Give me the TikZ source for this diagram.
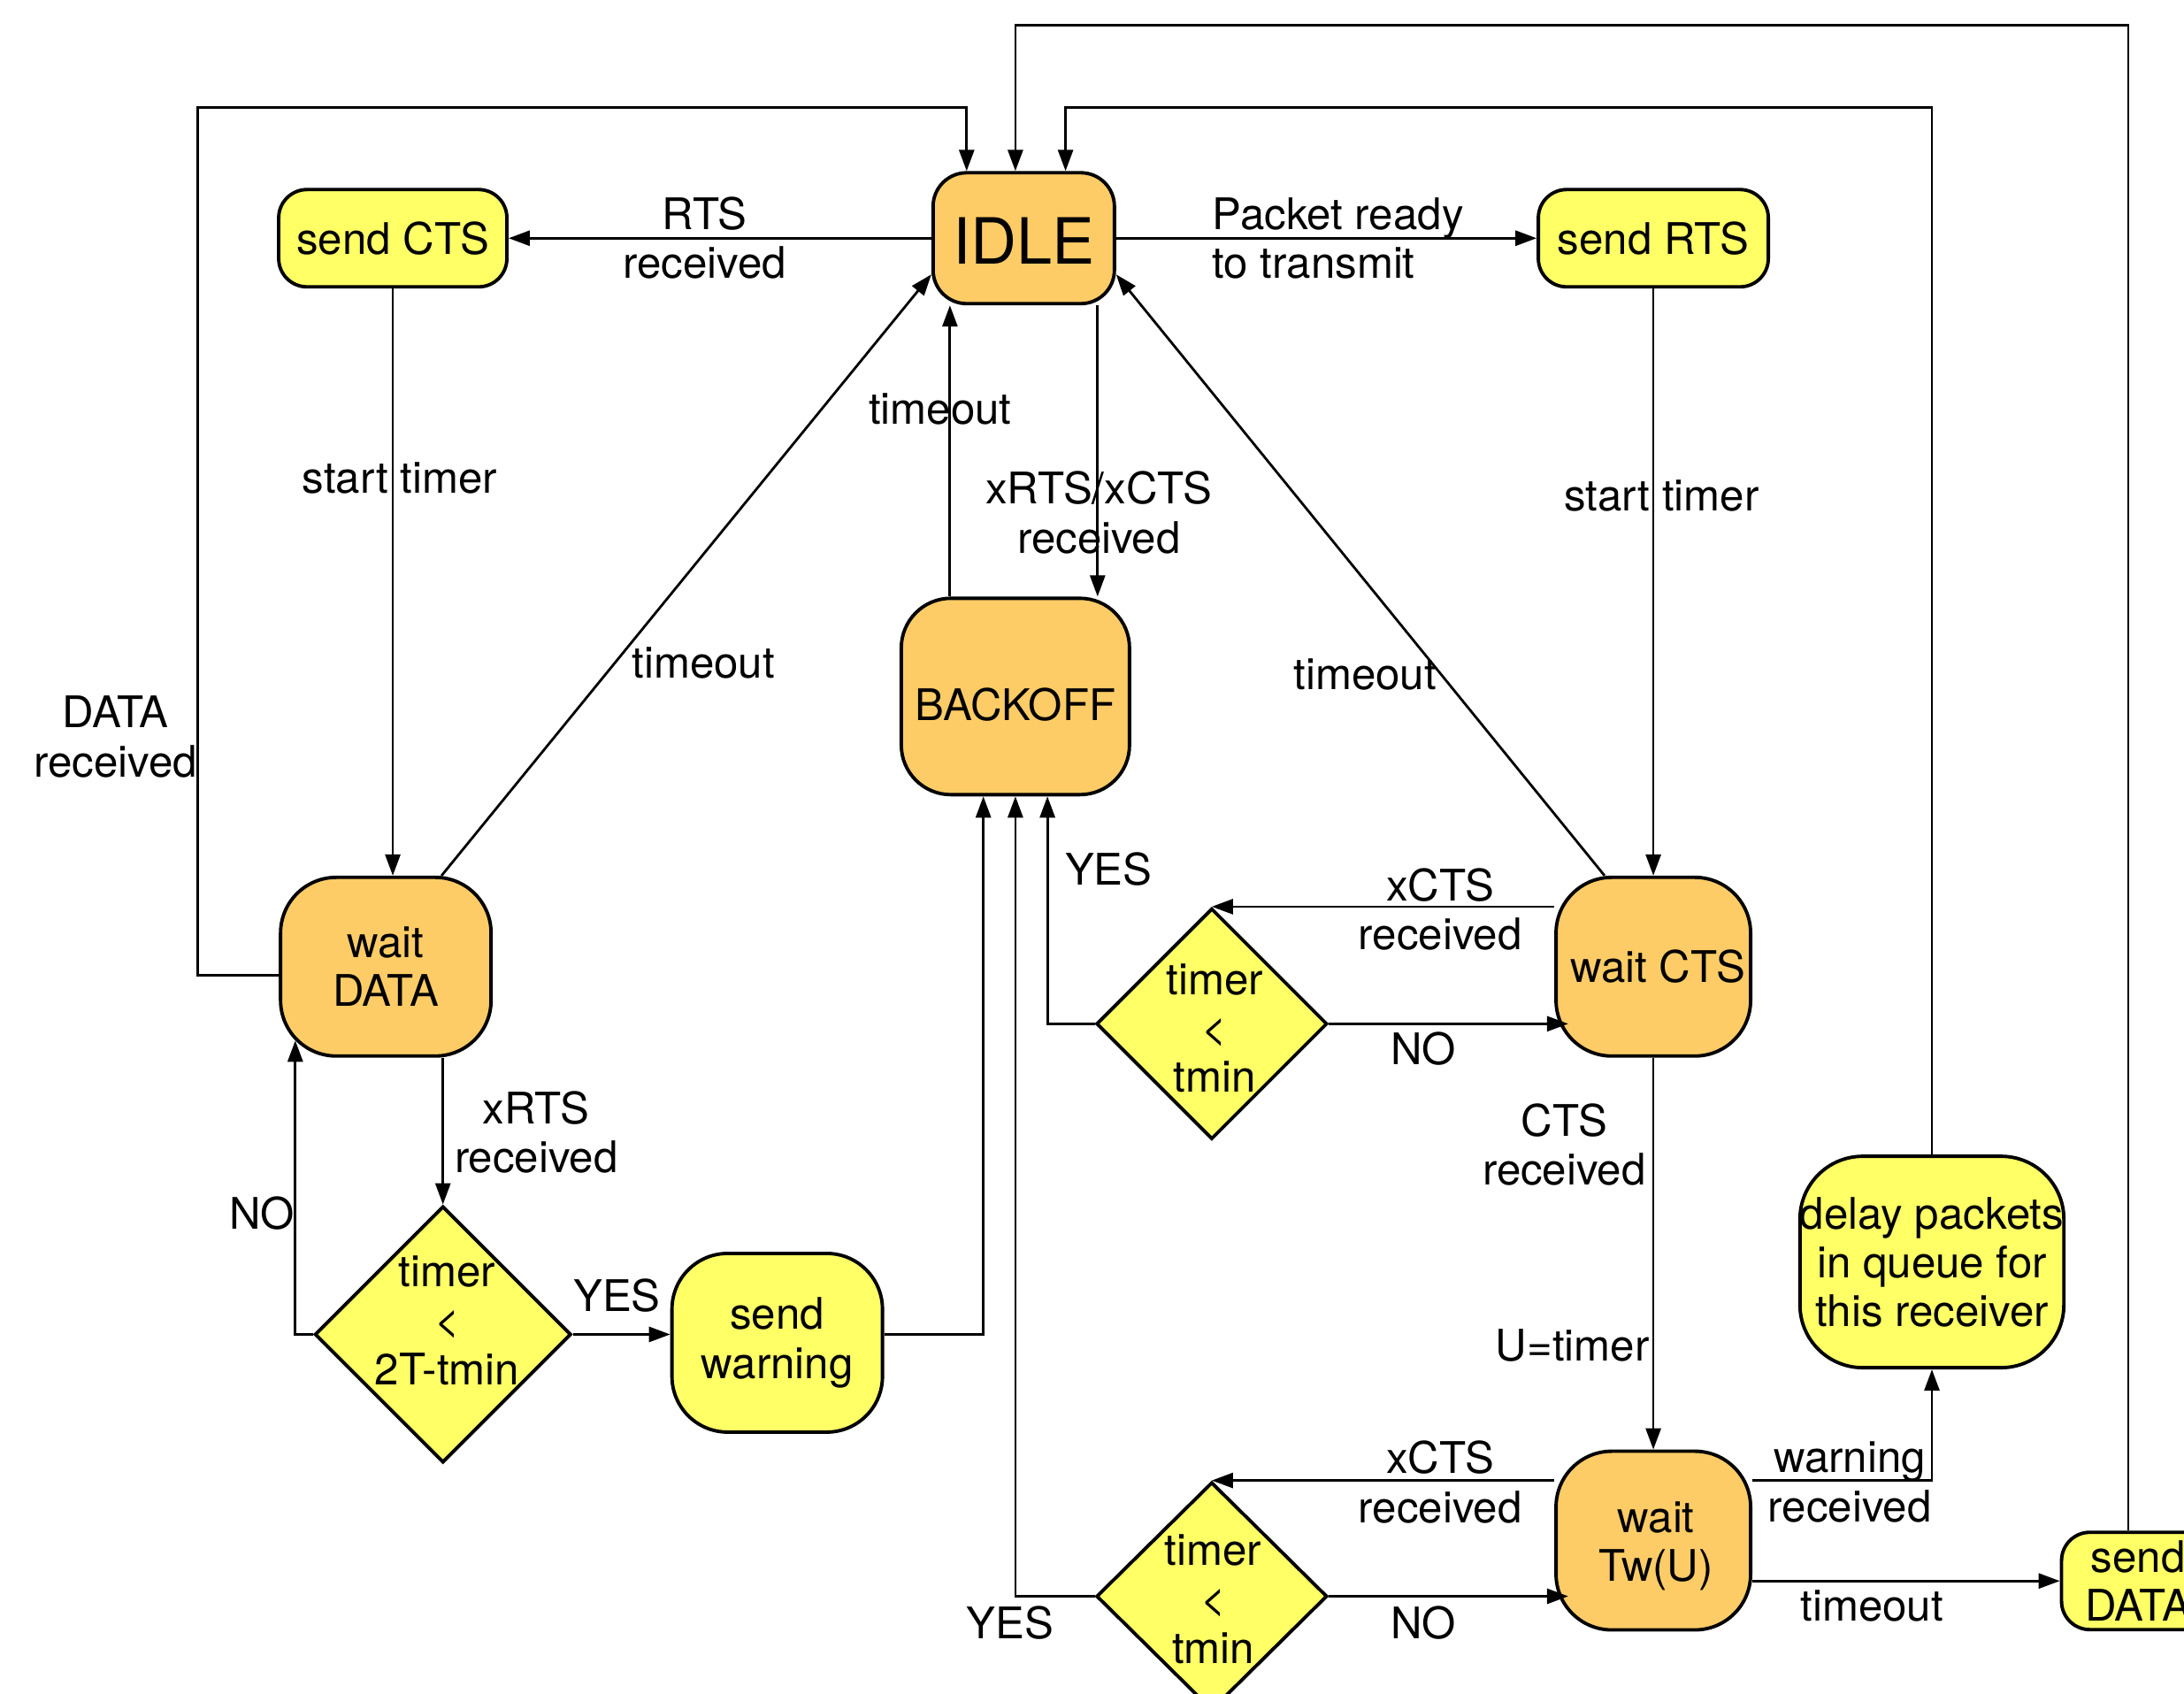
\documentclass[tikz,border=0pt]{standalone}
\usepackage{fontspec}
\setmainfont{TeX Gyre Heros}
\usetikzlibrary{arrows.meta,shapes.geometric,calc}
\definecolor{orng}{RGB}{254,204,102}
\definecolor{yel}{RGB}{255,255,102}
\begin{document}
\begin{tikzpicture}[x=0.015746cm, y=-0.015746cm,
  every node/.style={font=\fontsize{14}{15.7}\selectfont},
  box/.style={draw, line width=1.1pt, rounded corners=#1, inner sep=0pt, align=center},
  box/.default=0.32cm,
  ostate/.style={box=#1, fill=orng},
  ostate/.default=0.6cm,
  ystate/.style={box=#1, fill=yel},
  ystate/.default=0.32cm,
  decide/.style={diamond, draw, fill=yel, line width=1.1pt, inner sep=0pt},
  lbl/.style={align=center, inner sep=0pt},
  arr/.style={line width=0.8pt, -{Triangle[length=0.24cm,width=0.17cm]}}]
\useasboundingbox (0,0) rectangle (1568,1216);

% states
\node[ostate=0.38cm, minimum width=2.05cm, minimum height=1.48cm, text height=0.58cm, text depth=0pt, font=\fontsize{20.5}{24}\selectfont] (idle) at (735,171) {IDLE};
\node[ystate, minimum width=2.58cm, minimum height=1.10cm] (scts) at (282,171) {send CTS};
\node[ystate, minimum width=2.60cm, minimum height=1.10cm] (srts) at (1187,171) {send RTS};
\node[ostate=0.56cm, minimum width=2.58cm, minimum height=2.22cm, text height=0.545cm, text depth=0pt] (bo) at (729,500) {BACKOFF};
\node[ostate=0.63cm, minimum width=2.38cm, minimum height=2.02cm] (wd) at (277,694) {wait\\DATA};
\node[ostate=0.63cm, minimum width=2.20cm, minimum height=2.02cm] (wc) at (1187,694) {\hspace*{0.1cm}wait CTS};
\node[ostate=0.63cm, minimum width=2.20cm, minimum height=2.02cm] (wt) at (1187,1106) {};
\node[lbl] (wtt) at (1189,1110) {wait\\Tw(U)};
\node[ystate=0.63cm, minimum width=2.38cm, minimum height=2.02cm] (sw) at (558,964) {send\\warning};
\node[ystate=0.71cm, minimum width=2.94cm, minimum height=2.39cm] (dp) at (1387,906) {delay packets\\in queue for\\this receiver};
\node[ystate, minimum width=1.73cm, minimum height=1.10cm] (sd) at (1535,1135) {send\\DATA};

% decisions
\node[decide, minimum width=2.61cm, minimum height=2.61cm] (d1) at (870,735) {};
\node[lbl] (d1t) at (872,738) {timer\\<\\tmin};
\node[decide, minimum width=2.90cm, minimum height=2.90cm] (dl) at (318,958) {};
\node[lbl] (dlt) at (321,948) {timer\\<\\2T-tmin};
\node[decide, minimum width=2.61cm, minimum height=2.58cm] (d2) at (870,1146) {};
\node[lbl] (d2t) at (871,1148) {timer\\<\\tmin};

% helper coordinates
\coordinate (x682) at (682,0);
\coordinate (x788) at (788,0);
\coordinate (x706) at (706,0);
\coordinate (x752) at (752,0);
\coordinate (x1528) at (1528,0);
\coordinate (tl) at (142,77);
\coordinate (t694) at (694,77);
\coordinate (t765) at (765,77);
\coordinate (t729) at (729,18);
\coordinate (nowd) at (212,747);

% connectors
\draw[arr] (idle.west) -- (scts.east);
\draw[arr] (idle.east) -- (srts.west);
\draw[arr] (scts.south) -- (scts.south |- wd.north);
\draw[arr] (srts.south) -- (wc.north);
\draw[arr] ($(wd.north)+(40,0)$) -- ($(idle.west)+(0,26)$);
\draw[arr] ($(wc.north)+(-35,0)$) -- ($(idle.east)+(0,26)$);
\draw[arr] (bo.north -| x682) -- (idle.south -| x682);
\draw[arr] (idle.south -| x788) -- (bo.north -| x788);
\draw[arr] ($(wd.west)+(0,6)$) -| (tl) -| (t694 |- idle.north);
\draw[arr] (wd.south -| dl.north) -- (dl.north);
\draw[arr] (dl.west) -| (nowd);
\draw[arr] (dl.east) -- (dl.east -| sw.west);
\draw[arr] (sw.east |- dl.east) -| (bo.south -| x706);
\draw[arr] (wc.west |- d1.north) -- (d1.north);
\draw[arr] (d1.east) -- ($(d1.east -| wc.west)+(10,0)$);
\draw[arr] (d1.west) -| (bo.south -| x752);
\draw[arr] (wc.south) -- (wt.north);
\draw[arr] (wt.west |- d2.north) -- (d2.north);
\draw[arr] (d2.east) -- ($(d2.east -| wt.west)+(10,0)$);
\draw[arr] (d2.west) -| (bo.south);
\draw[arr] (wt.east |- d2.north) -| (dp.south);
\draw[arr] (wt.east |- sd.west) -- (sd.west);
\draw[arr] (dp.north) |- (t765) -- (t765 |- idle.north);
\draw[arr] (sd.north -| x1528) |- (t729) -- (t729 |- idle.north);

% labels
\node[lbl] (l1) at (506,171) {RTS\\received};
\node[lbl, align=left, anchor=west] (l2) at (870,171) {Packet ready\\to transmit};
\node[lbl] (l3) at (287,343) {start timer};
\node[lbl] (l4) at (1193,356) {start timer};
\node[lbl] (l5) at (505,476) {timeout};
\node[lbl] (l6) at (980,484) {timeout};
\node[lbl] (l7) at (675,294) {timeout};
\node[lbl] (l8) at (789,368) {xRTS/xCTS\\received};
\node[lbl, align=center, anchor=east] (l9) at (142,529) {DATA\\received};
\node[lbl] (l10) at (385,813) {xRTS\\received};
\node[lbl] (l11) at (188,871) {NO};
\node[lbl] (l12) at (443,930) {YES};
\node[lbl] (l13) at (1034,653) {xCTS\\received};
\node[lbl] (l14) at (1022,753) {NO};
\node[lbl] (l15) at (796,624) {YES};
\node[lbl] (l16) at (1123,822) {CTS\\received};
\node[lbl] (l17) at (1129,966) {U=timer};
\node[lbl] (l18) at (1034,1064) {xCTS\\received};
\node[lbl] (l19) at (1022,1165) {NO};
\node[lbl] (l20) at (725,1165) {YES};
\node[lbl] (l21) at (1328,1064) {warning\\received};
\node[lbl] (l22) at (1344,1153) {timeout};
\end{tikzpicture}
\end{document}
